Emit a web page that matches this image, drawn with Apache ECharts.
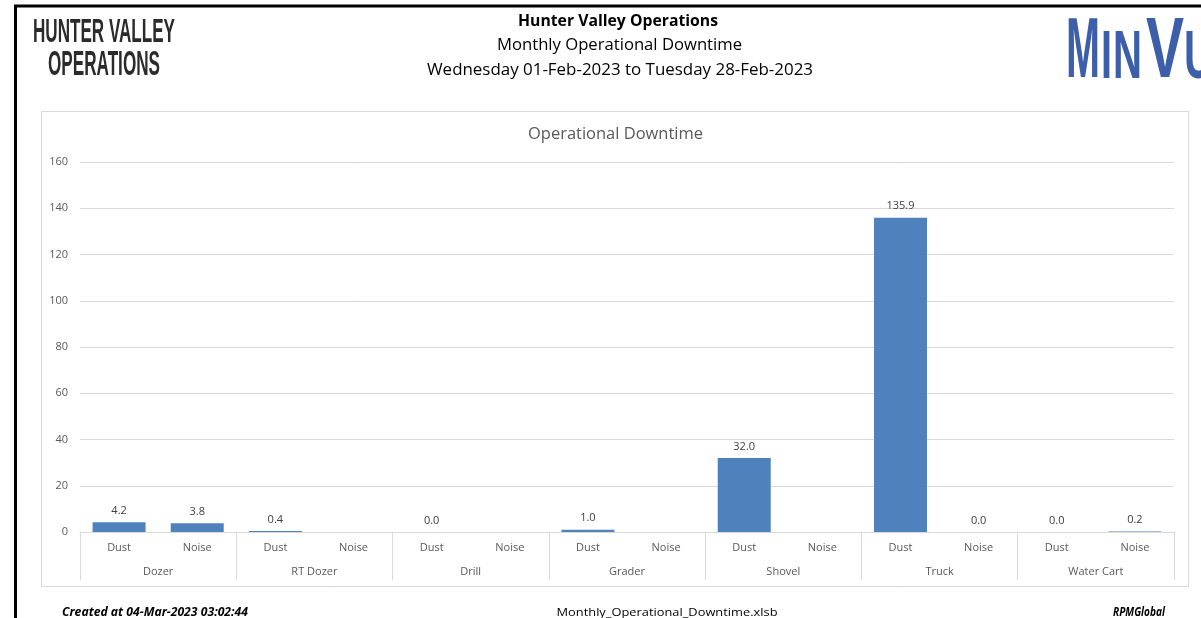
<!DOCTYPE html>
<html>
<head>
<meta charset="utf-8">
<script src="https://cdn.jsdelivr.net/npm/echarts@6/dist/echarts.min.js"></script>
<style>
  html, body { margin: 0; padding: 0; background: #fff; }
  #chart { width: 1201px; height: 618px; }
</style>
</head>
<body>
<div id="chart"></div>
<script>
// Equipment groups and the downtime reasons shown under each
const groups = ['Dozer', 'RT Dozer', 'Drill', 'Grader', 'Shovel', 'Truck', 'Water Cart'];
const reasons = ['Dust', 'Noise'];
// Downtime hours per group (null = no record for that reason)
const dustHours  = [4.2, 0.4, 0.0, 1.0, 32.0, 135.9, 0.0];
const noiseHours = [3.8, null, null, null, null, 0.0, 0.2];
const yTicks = [0, 20, 40, 60, 80, 100, 120, 140, 160];

const reportTitle = 'Hunter Valley Operations';
const reportName = 'Monthly Operational Downtime';
const reportRange = 'Wednesday 01-Feb-2023 to Tuesday 28-Feb-2023';
const chartTitle = 'Operational Downtime';
const footerLeft = 'Created at 04-Mar-2023 03:02:44';
const footerMid = 'Monthly_Operational_Downtime.xlsb';
const footerRight = 'RPMGlobal';

// Flatten to one category per (group, reason) pair
const subLabels = [];
const values = [];
groups.forEach((g, i) => {
  subLabels.push(reasons[0]); values.push(dustHours[i]);
  subLabels.push(reasons[1]); values.push(noiseHours[i]);
});

const BODY = '"Open Sans", Lato, sans-serif';
const CONDENSED = '"Liberation Sans", Arial, sans-serif';

// Text fitted horizontally to a given width (used for logotypes and headings)
const measureCtx = document.createElement('canvas').getContext('2d');
function fitted(text, font, left, midY, width, fill, z) {
  measureCtx.font = font;
  const w = measureCtx.measureText(text).width;
  return {
    type: 'text', x: left, y: midY, scaleX: width / w, z: z || 10,
    style: { text: text, font: font, fill: fill, textAlign: 'left', textVerticalAlign: 'middle' }
  };
}
function fittedCenter(text, font, cx, midY, width, fill) {
  return fitted(text, font, cx - width / 2, midY, width, fill);
}

const logoBlue = '#3d5ea9';
const graphics = [
  // page border
  { type: 'line', shape: { x1: 14, y1: 6, x2: 1201, y2: 6 }, style: { stroke: '#000', lineWidth: 3 } },
  { type: 'line', shape: { x1: 15.5, y1: 5, x2: 15.5, y2: 618 }, style: { stroke: '#000', lineWidth: 3 } },
  // chart frame
  { type: 'rect', shape: { x: 41.5, y: 111.5, width: 1147, height: 475 }, style: { fill: 'none', stroke: '#d9d9d9', lineWidth: 1 }, z: -1 },
  // site logotype
  fitted('HUNTER VALLEY', 'bold 33px ' + CONDENSED, 33, 33, 142, '#2b2b2b'),
  fitted('OPERATIONS', 'bold 35px ' + CONDENSED, 48, 65.5, 112, '#2b2b2b'),
  // vendor logotype
  fitted('M', 'bold 85px ' + CONDENSED, 1066, 54, 34, logoBlue),
  fitted('I', 'bold 69px ' + CONDENSED, 1101, 58.5, 11, logoBlue),
  fitted('N', 'bold 69px ' + CONDENSED, 1113, 58.5, 29, logoBlue),
  fitted('V', 'bold 85px ' + CONDENSED, 1146, 54, 38, logoBlue),
  fitted('U', 'bold 69px ' + CONDENSED, 1184, 58.5, 30, logoBlue),
  // report heading
  fittedCenter(reportTitle, 'bold 16px ' + BODY, 618, 21, 200, '#000'),
  fittedCenter(reportName, '16px ' + BODY, 619.5, 45.5, 245, '#000'),
  fittedCenter(reportRange, '16px ' + BODY, 620, 70.5, 386, '#000'),
  // chart title
  fittedCenter(chartTitle, '16px ' + BODY, 615.5, 134.5, 175, '#595959'),
  // footer
  fitted(footerLeft, 'italic bold 11.5px ' + BODY, 62, 612.5, 186, '#000'),
  fittedCenter(footerMid, '11.5px ' + BODY, 667, 612.5, 221, '#000'),
  fitted(footerRight, 'italic bold 11.5px ' + BODY, 1113, 612.5, 52, '#000')
];

const chart = echarts.init(document.getElementById('chart'), null, { renderer: 'canvas' });
chart.setOption({
  backgroundColor: '#fff',
  animation: false,
  grid: { left: 80, right: 27, top: 162, bottom: 86, containLabel: false },
  xAxis: [
    {
      type: 'category', data: subLabels, position: 'bottom',
      axisLine: { show: true, lineStyle: { color: '#d9d9d9', width: 1 } },
      axisTick: { show: false },
      axisLabel: { interval: 0, margin: 10, fontFamily: BODY, fontSize: 11, color: '#595959' }
    },
    {
      type: 'category', data: groups, position: 'bottom',
      axisLine: { show: false },
      axisTick: { show: true, length: 48, lineStyle: { color: '#d9d9d9', width: 1 } },
      axisLabel: { interval: 0, margin: 34, fontFamily: BODY, fontSize: 11, color: '#595959' }
    }
  ],
  yAxis: {
    type: 'value', min: yTicks[0], max: yTicks[yTicks.length - 1], interval: yTicks[1] - yTicks[0],
    axisLine: { show: false }, axisTick: { show: false },
    axisLabel: { margin: 12, fontFamily: BODY, fontSize: 11, color: '#595959' },
    splitLine: { lineStyle: { color: '#d9d9d9', width: 1 } }
  },
  series: [{
    type: 'bar', xAxisIndex: 0, data: values, barWidth: 53,
    itemStyle: { color: '#4f81bd' },
    label: {
      show: true, position: 'top', distance: 6,
      fontFamily: BODY, fontSize: 11, color: '#404040',
      formatter: p => (p.value == null ? '' : Number(p.value).toFixed(1))
    }
  }],
  graphic: graphics
});
</script>
</body>
</html>
